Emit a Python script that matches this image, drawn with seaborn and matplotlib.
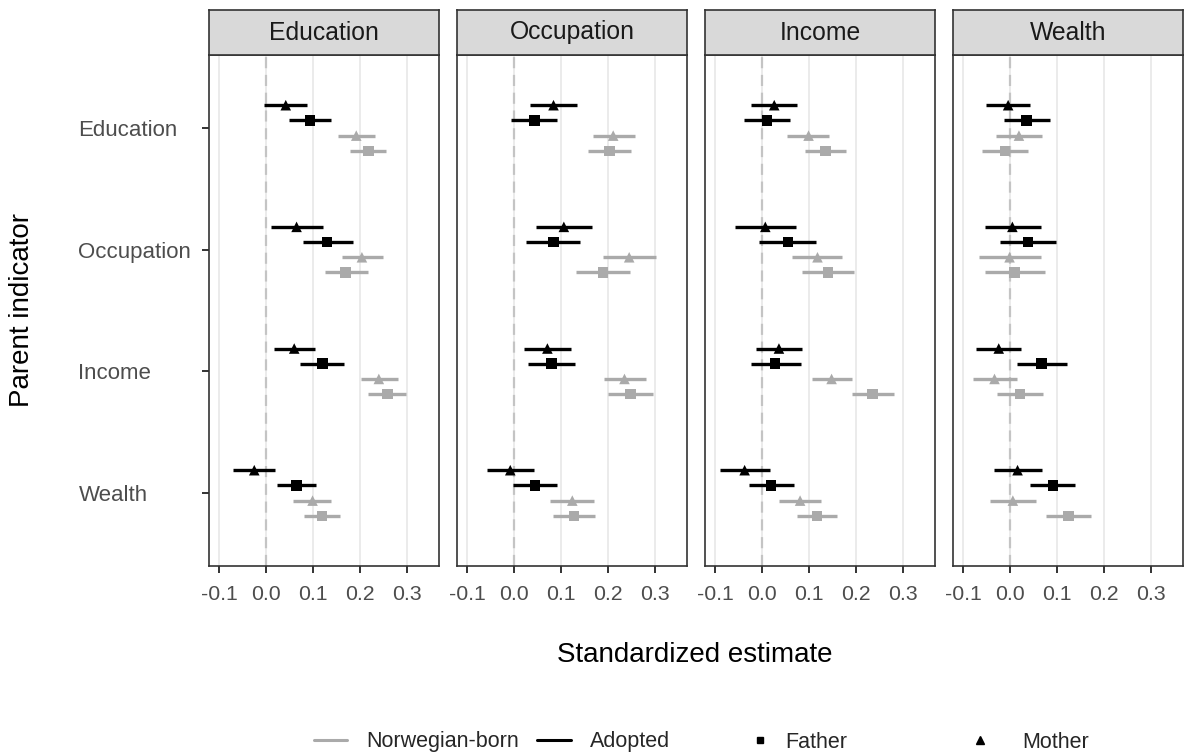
import numpy as np
import pandas as pd
import matplotlib
matplotlib.use("Agg")
import matplotlib.pyplot as plt
import seaborn as sns
from matplotlib.lines import Line2D

# Facets (child outcome) and rows (parent indicator)
outcomes = ["Education", "Occupation", "Income", "Wealth"]
indicators = ["Education", "Occupation", "Income", "Wealth"]
# Within each indicator: adopted mother, adopted father, Norwegian-born mother, Norwegian-born father
samples = ["Adopted", "Adopted", "Norwegian-born", "Norwegian-born"]
parents = ["Mother", "Father", "Mother", "Father"]

# Estimates and 95% CI bounds, indicator-major (Education, Occupation, Income, Wealth)
est_education = [0.042, 0.094, 0.192, 0.218,
                 0.065, 0.130, 0.204, 0.169,
                 0.060, 0.120, 0.240, 0.258,
                 -0.025, 0.065, 0.099, 0.119]
lo_education = [-0.005, 0.049, 0.154, 0.179,
                0.011, 0.078, 0.161, 0.125,
                0.016, 0.073, 0.202, 0.218,
                -0.070, 0.023, 0.058, 0.080]
hi_education = [0.087, 0.139, 0.231, 0.256,
                0.122, 0.185, 0.249, 0.217,
                0.104, 0.166, 0.280, 0.298,
                0.020, 0.107, 0.139, 0.158]

est_occupation = [0.084, 0.043, 0.211, 0.203,
                  0.106, 0.084, 0.245, 0.189,
                  0.071, 0.080, 0.235, 0.248,
                  -0.008, 0.045, 0.124, 0.128]
lo_occupation = [0.033, -0.006, 0.167, 0.157,
                 0.046, 0.026, 0.189, 0.131,
                 0.021, 0.029, 0.191, 0.199,
                 -0.057, -0.003, 0.077, 0.083]
hi_occupation = [0.135, 0.091, 0.257, 0.248,
                 0.165, 0.141, 0.302, 0.247,
                 0.122, 0.130, 0.281, 0.296,
                 0.043, 0.092, 0.170, 0.173]

est_income = [0.026, 0.011, 0.099, 0.135,
              0.007, 0.055, 0.118, 0.140,
              0.036, 0.028, 0.148, 0.235,
              -0.037, 0.019, 0.081, 0.117]
lo_income = [-0.023, -0.038, 0.054, 0.092,
             -0.057, -0.006, 0.063, 0.085,
             -0.013, -0.024, 0.106, 0.191,
             -0.089, -0.028, 0.036, 0.074]
hi_income = [0.074, 0.060, 0.143, 0.179,
             0.072, 0.115, 0.170, 0.196,
             0.085, 0.082, 0.191, 0.280,
             0.016, 0.067, 0.126, 0.159]

est_wealth = [-0.004, 0.035, 0.019, -0.011,
              0.005, 0.038, -0.001, 0.010,
              -0.024, 0.067, -0.033, 0.021,
              0.016, 0.091, 0.006, 0.124]
lo_wealth = [-0.052, -0.013, -0.030, -0.060,
             -0.054, -0.021, -0.067, -0.054,
             -0.072, 0.014, -0.079, -0.027,
             -0.034, 0.043, -0.042, 0.077]
hi_wealth = [0.043, 0.084, 0.069, 0.038,
             0.065, 0.098, 0.065, 0.074,
             0.024, 0.121, 0.015, 0.070,
             0.067, 0.138, 0.055, 0.172]

x_ticks = [-0.1, 0.0, 0.1, 0.2, 0.3]
x_ticklabels = ["-0.1", "0.0", "0.1", "0.2", "0.3"]

series = {
    "Education": (est_education, lo_education, hi_education),
    "Occupation": (est_occupation, lo_occupation, hi_occupation),
    "Income": (est_income, lo_income, hi_income),
    "Wealth": (est_wealth, lo_wealth, hi_wealth),
}

# Long table with dodged row positions
dodge_width = 0.5
offsets = (np.arange(4) - 1.5) * dodge_width / 4
rows = []
for outcome in outcomes:
    est, lo, hi = series[outcome]
    for i, ind in enumerate(indicators):
        for g in range(4):
            k = i * 4 + g
            rows.append(dict(outcome=outcome, indicator=ind, sample=samples[g],
                             parent=parents[g], est=est[k], lo=lo[k], hi=hi[k],
                             ypos=i + offsets[g]))
df = pd.DataFrame(rows)

sns.set_theme(style="white")
plt.rcParams["font.family"] = ["Liberation Sans", "DejaVu Sans"]

W, H = 1189, 756
fig = plt.figure(figsize=(W / 100, H / 100), dpi=100)

palette = {"Norwegian-born": "#AAAAAA", "Adopted": "#000000"}
markers = {"Father": "s", "Mother": "^"}
frame_col = "#333333"

panel_left = [209, 457, 705, 953]
panel_w = 230
panel_top, panel_bottom = 55, 566
strip_top = 10

for p, outcome in enumerate(outcomes):
    ax = fig.add_axes([panel_left[p] / W, 1 - panel_bottom / H,
                       panel_w / W, (panel_bottom - panel_top) / H])
    sub = df[df["outcome"] == outcome]

    ax.axvline(0, color="#C4C4C4", lw=1.6, ls=(0, (5, 3)), zorder=1)
    for _, r in sub.iterrows():
        ax.hlines(r["ypos"], r["lo"], r["hi"], color=palette[r["sample"]],
                  lw=2.4, zorder=2)
    sns.scatterplot(data=sub, x="est", y="ypos", hue="sample", style="parent",
                    palette=palette, markers=markers, s=58, linewidth=0,
                    legend=False, ax=ax, zorder=3)

    ax.set_xlim(-0.1213, 0.368)
    ax.set_ylim(len(indicators) - 1 + 0.6, -0.6)
    ax.set_xticks(x_ticks)
    ax.set_xticklabels(x_ticklabels)
    ax.set_xlabel("")
    ax.set_ylabel("")
    ax.grid(axis="x", color="#EBEBEB", lw=1.4)
    ax.grid(axis="y", visible=False)
    ax.set_axisbelow(True)
    for s in ax.spines.values():
        s.set_color(frame_col)
        s.set_linewidth(1.2)
    ax.tick_params(axis="x", length=5, width=1.4, color=frame_col,
                   labelsize=15.3, labelcolor="#4D4D4D", pad=9, bottom=True)
    ax.set_yticks(range(len(indicators)))
    if p == 0:
        ax.set_yticklabels(indicators)
        ax.tick_params(axis="y", length=5, width=1.4, color=frame_col,
                       labelsize=16, labelcolor="#4D4D4D", pad=89, left=True)
        for lab in ax.get_yticklabels():
            lab.set_horizontalalignment("left")
    else:
        ax.tick_params(axis="y", left=False, labelleft=False)

    # facet strip
    sax = fig.add_axes([panel_left[p] / W, 1 - panel_top / H,
                        panel_w / W, (panel_top - strip_top) / H])
    sax.set_facecolor("#D9D9D9")
    sax.set_xticks([])
    sax.set_yticks([])
    for s in sax.spines.values():
        s.set_color(frame_col)
        s.set_linewidth(1.2)
    sax.text(0.5, 0.5, outcome, ha="center", va="center", fontsize=17.8,
             color="#1A1A1A", transform=sax.transAxes)

fig.text(695 / W, 1 - 655 / H, "Standardized estimate", ha="center",
         va="center", fontsize=20, color="black")
fig.text(22 / W, 1 - 310 / H, "Parent indicator", ha="center", va="center",
         rotation=90, fontsize=20, color="black")

legend_y = 1 - 742 / H
line_handles = [Line2D([], [], color=palette["Norwegian-born"], lw=2.2),
                Line2D([], [], color=palette["Adopted"], lw=2.2)]
fig.legend(line_handles, ["Norwegian-born", "Adopted"], ncol=2,
           loc="center", bbox_to_anchor=(492 / W, legend_y),
           frameon=False, fontsize=15.5, handlelength=1.55,
           handletextpad=0.9, columnspacing=0.85)

# shape keys, each placed as its own entry
shape_entries = [("Father", "s", 5, 749, 0.67),
                 ("Mother", "^", 6, 969, 1.47)]
for label, mk, msize, x_px, pad in shape_entries:
    fig.legend([Line2D([], [], color="black", marker=mk, ls="", markersize=msize)],
               [label], loc="center left", bbox_to_anchor=(x_px / W, legend_y),
               frameon=False, fontsize=15.5, handlelength=1.0,
               handletextpad=pad, borderpad=0, borderaxespad=0)

fig.savefig("out.png", dpi=100)
